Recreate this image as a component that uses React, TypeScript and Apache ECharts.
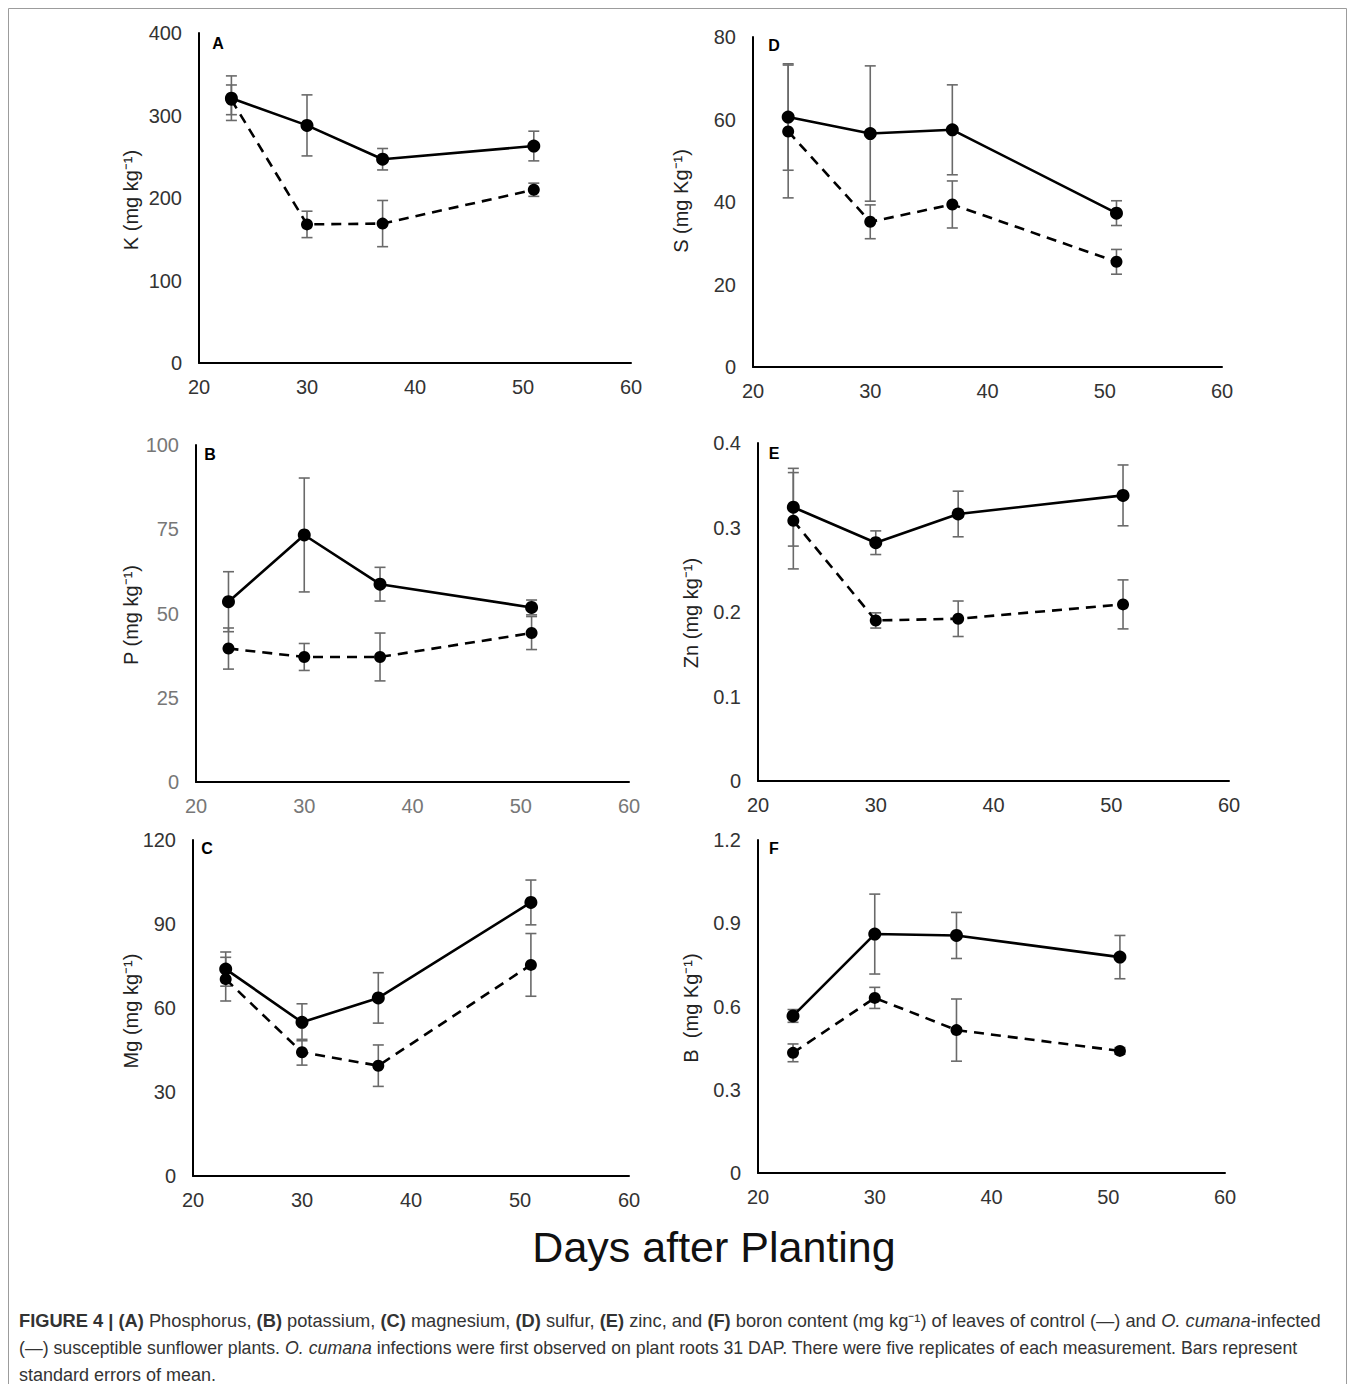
import React, { useEffect, useRef } from "react";
import * as echarts from "echarts";

// ---------- data ----------
const days = [23, 30, 37, 51];

const kControl = [321, 288, 247, 263];
const kControlSE = [27, 37, 13, 18];
const kInfected = [319, 168, 169, 210];
const kInfectedSE = [18, 16, 28, 8];

const pControl = [53.5, 73.3, 58.7, 51.8];
const pControlSE = [8.9, 16.9, 5.0, 2.2];
const pInfected = [39.6, 37.1, 37.1, 44.2];
const pInfectedSE = [6.1, 4.0, 7.1, 4.9];

const mgControl = [73.9, 54.9, 63.6, 97.7];
const mgControlSE = [6.1, 6.6, 9.0, 8.0];
const mgInfected = [70.3, 44.2, 39.4, 75.4];
const mgInfectedSE = [7.8, 4.6, 7.4, 11.2];

const sControl = [60.6, 56.6, 57.5, 37.3];
const sControlSE = [12.9, 16.4, 10.9, 3.0];
const sInfected = [57.1, 35.2, 39.4, 25.5];
const sInfectedSE = [16.1, 4.1, 5.7, 3.0];

const znControl = [0.324, 0.282, 0.316, 0.338];
const znControlSE = [0.046, 0.014, 0.027, 0.036];
const znInfected = [0.308, 0.19, 0.192, 0.209];
const znInfectedSE = [0.057, 0.009, 0.021, 0.029];

const bControl = [0.566, 0.861, 0.856, 0.778];
const bControlSE = [0.023, 0.144, 0.083, 0.078];
const bInfected = [0.433, 0.631, 0.515, 0.44];
const bInfectedSE = [0.032, 0.038, 0.112, 0.012];

const xMin = 20;
const xMax = 60;
const xInterval = 10;

const xTitle = "Days after Planting";
const captionLines = [
  "{b|FIGURE 4 | (A)} Phosphorus, {b|(B)} potassium, {b|(C)} magnesium, {b|(D)} sulfur, {b|(E)} zinc, and {b|(F)} boron content (mg kg⁻¹) of leaves of control (—) and {i|O. cumana}-infected",
  "(—) susceptible sunflower plants. {i|O. cumana} infections were first observed on plant roots 31 DAP. There were five replicates of each measurement. Bars represent",
  "standard errors of mean.",
];
const captionScale = [1.015, 0.985, 1.0];

// ---------- panels (data refs + layout) ----------
const panels = [
  {
    letter: "A", title: "K (mg kg⁻¹)", max: 400, interval: 100,
    control: kControl, controlSE: kControlSE, infected: kInfected, infectedSE: kInfectedSE,
    grid: { left: 199, top: 33, width: 432, height: 330 },
    titlePos: [131, 200], letterPos: [218, 43], labelColor: "#333",
  },
  {
    letter: "D", title: "S (mg Kg⁻¹)", max: 80, interval: 20,
    control: sControl, controlSE: sControlSE, infected: sInfected, infectedSE: sInfectedSE,
    grid: { left: 753, top: 37, width: 469, height: 330 },
    titlePos: [681, 201], letterPos: [774, 45], labelColor: "#333",
  },
  {
    letter: "B", title: "P (mg kg⁻¹)", max: 100, interval: 25,
    control: pControl, controlSE: pControlSE, infected: pInfected, infectedSE: pInfectedSE,
    grid: { left: 196, top: 445, width: 433, height: 337 },
    titlePos: [131, 615], letterPos: [210, 454], labelColor: "#777",
  },
  {
    letter: "E", title: "Zn (mg kg⁻¹)", max: 0.4, interval: 0.1,
    control: znControl, controlSE: znControlSE, infected: znInfected, infectedSE: znInfectedSE,
    grid: { left: 758, top: 443, width: 471, height: 338 },
    titlePos: [691, 613], letterPos: [774, 453], labelColor: "#333",
  },
  {
    letter: "C", title: "Mg (mg kg⁻¹)", max: 120, interval: 30,
    control: mgControl, controlSE: mgControlSE, infected: mgInfected, infectedSE: mgInfectedSE,
    grid: { left: 193, top: 840, width: 436, height: 336 },
    titlePos: [131, 1011], letterPos: [207, 848], labelColor: "#333",
  },
  {
    letter: "F", title: "B  (mg Kg⁻¹)", max: 1.2, interval: 0.3,
    control: bControl, controlSE: bControlSE, infected: bInfected, infectedSE: bInfectedSE,
    grid: { left: 758, top: 840, width: 467, height: 333 },
    titlePos: [691, 1008], letterPos: [774, 848], labelColor: "#333",
  },
];

const FONT = "Liberation Sans, Arial, Helvetica, sans-serif";

function fmt(v: number) {
  if (v === 0) return "0";
  return String(Number(v.toFixed(2)));
}

function buildOption() {
  const grid: any[] = [];
  const xAxis: any[] = [];
  const yAxis: any[] = [];
  const series: any[] = [];
  const graphic: any[] = [];

  panels.forEach((p, i) => {
    grid.push({ ...p.grid, containLabel: false });
    xAxis.push({
      type: "value", gridIndex: i, min: xMin, max: xMax, interval: xInterval,
      axisLine: { show: true, lineStyle: { color: "#000", width: 2 } },
      axisTick: { show: false },
      splitLine: { show: false },
      axisLabel: { color: p.labelColor, fontSize: 20, fontFamily: FONT, margin: 14 },
    });
    yAxis.push({
      type: "value", gridIndex: i, min: 0, max: p.max, interval: p.interval,
      axisLine: { show: true, lineStyle: { color: "#000", width: 2 } },
      axisTick: { show: false },
      splitLine: { show: false },
      axisLabel: { color: p.labelColor, fontSize: 20, fontFamily: FONT, margin: 17, formatter: fmt },
    });

    const errData = [
      ...days.map((d, k) => [d, p.control[k], p.controlSE[k]]),
      ...days.map((d, k) => [d, p.infected[k], p.infectedSE[k]]),
    ];
    series.push({
      type: "custom", xAxisIndex: i, yAxisIndex: i, z: 1,
      data: errData,
      encode: { x: 0, y: 1 },
      renderItem: (params: any, api: any) => {
        const x = api.value(0);
        const y = api.value(1);
        const se = api.value(2);
        const t = api.coord([x, y + se]);
        const b = api.coord([x, y - se]);
        const hw = 5.5;
        const st = { stroke: "#6a6a6a", lineWidth: 1.6 };
        return {
          type: "group",
          children: [
            { type: "line", shape: { x1: t[0], y1: t[1], x2: b[0], y2: b[1] }, style: st },
            { type: "line", shape: { x1: t[0] - hw, y1: t[1], x2: t[0] + hw, y2: t[1] }, style: st },
            { type: "line", shape: { x1: b[0] - hw, y1: b[1], x2: b[0] + hw, y2: b[1] }, style: st },
          ],
        };
      },
    });
    series.push({
      type: "line", xAxisIndex: i, yAxisIndex: i, z: 3,
      data: days.map((d, k) => [d, p.control[k]]),
      symbol: "circle", symbolSize: 13,
      itemStyle: { color: "#000" },
      lineStyle: { color: "#000", width: 2.6, type: "solid" },
    });
    series.push({
      type: "line", xAxisIndex: i, yAxisIndex: i, z: 2,
      data: days.map((d, k) => [d, p.infected[k]]),
      symbol: "circle", symbolSize: 12,
      itemStyle: { color: "#000" },
      lineStyle: { color: "#000", width: 2.6, type: [10, 7] },
    });

    graphic.push({
      type: "text", x: p.titlePos[0], y: p.titlePos[1], rotation: Math.PI / 2,
      style: {
        text: p.title, fill: "#222", fontSize: 20, fontFamily: FONT,
        align: "center", verticalAlign: "middle",
      },
    });
    graphic.push({
      type: "text", x: p.letterPos[0], y: p.letterPos[1],
      style: {
        text: p.letter, fill: "#000", fontSize: 16, fontWeight: "bold", fontFamily: FONT,
        align: "center", verticalAlign: "middle",
      },
    });
  });

  graphic.push({
    type: "polyline",
    shape: { points: [[8.5, 1390], [8.5, 8.5], [1346.5, 8.5], [1346.5, 1390]] },
    style: { stroke: "#9c9c9c", lineWidth: 1, fill: "none" },
  });
  graphic.push({
    type: "text", x: 714, y: 1247,
    style: { text: xTitle, fill: "#111", fontSize: 43, fontFamily: FONT, align: "center", verticalAlign: "middle" },
  });
  const CAP = 18;
  const rich = {
    b: { fontWeight: "bold", fontSize: CAP, fontFamily: FONT, fill: "#333" },
    i: { fontStyle: "italic", fontSize: CAP, fontFamily: FONT, fill: "#333" },
  };
  captionLines.forEach((line, k) => {
    graphic.push({
      type: "text", x: 19, y: 1321 + k * 27, scaleX: captionScale[k],
      style: {
        text: line, rich, fill: "#333", fontSize: CAP, fontFamily: FONT,
        align: "left", verticalAlign: "middle",
      },
    });
  });

  return {
    animation: false,
    backgroundColor: "#fff",
    grid, xAxis, yAxis, series, graphic,
  };
}

export default function App() {
  const ref = useRef<HTMLDivElement>(null);
  useEffect(() => {
    if (!ref.current) return;
    const chart = echarts.init(ref.current, undefined, { renderer: "svg" });
    chart.setOption(buildOption() as any);
    return () => chart.dispose();
  }, []);
  return (
    <div
      ref={ref}
      style={{ position: "absolute", left: 0, top: 0, width: 1355, height: 1384, background: "#fff" }}
    />
  );
}
